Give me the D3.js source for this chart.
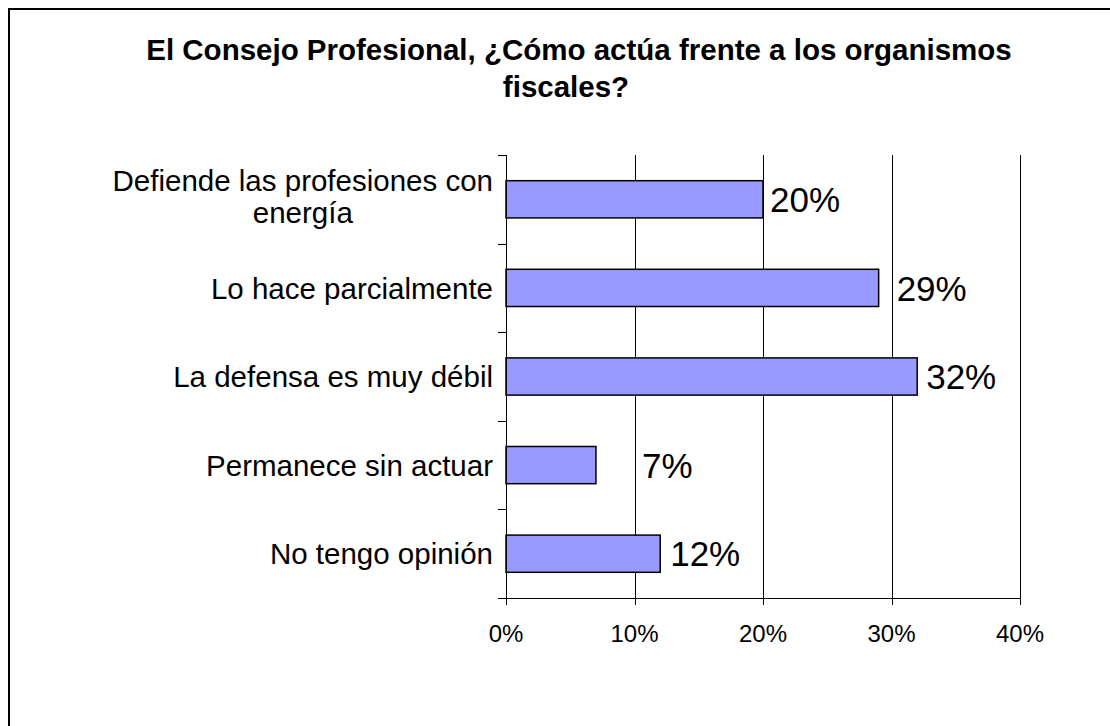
<!DOCTYPE html>
<html>
<head>
<meta charset="utf-8">
<script src="https://cdn.jsdelivr.net/npm/d3@7"></script>
<style>
  html, body { margin: 0; padding: 0; background: #fff; }
  svg { display: block; }
  text { font-family: Arial, "Liberation Sans", sans-serif; fill: #000; }
</style>
</head>
<body>
<script>
const titleLines = ["El Consejo Profesional, ¿Cómo actúa frente a los organismos", "fiscales?"];
const categories = [
  ["Defiende las profesiones con", "energía"],
  ["Lo hace parcialmente"],
  ["La defensa es muy débil"],
  ["Permanece sin actuar"],
  ["No tengo opinión"]
];
const values = [20, 29, 32, 7, 12];
const valueLabels = ["20%", "29%", "32%", "7%", "12%"];
const xTicks = [0, 10, 20, 30, 40];

const W = 1110, H = 726;
const svg = d3.select("body").append("svg").attr("width", W).attr("height", H);

svg.append("rect").attr("x", 9).attr("y", 9).attr("width", W + 20).attr("height", H + 20)
  .attr("fill", "#fff").attr("stroke", "#000").attr("stroke-width", 2);

const m = { left: 506, right: 1020, top: 155, bottom: 598 };
const x = d3.scaleLinear().domain([0, 40]).range([m.left, m.right]);
const y = d3.scaleBand().domain(d3.range(categories.length)).range([m.top, m.bottom]).padding(0);

// title
svg.append("text").attr("x", 579).attr("y", 60).attr("text-anchor", "middle")
  .style("font-size", "29.5px").style("font-weight", "bold").text(titleLines[0]);
svg.append("text").attr("x", 566).attr("y", 97).attr("text-anchor", "middle")
  .style("font-size", "29.5px").style("font-weight", "bold").text(titleLines[1]);

// gridlines
svg.append("g").selectAll("line").data(xTicks.slice(1)).join("line")
  .attr("x1", d => Math.round(x(d)) + 0.5).attr("x2", d => Math.round(x(d)) + 0.5)
  .attr("y1", m.top).attr("y2", m.bottom)
  .attr("stroke", "#000").attr("stroke-width", 1);

// bars
const barH = y.bandwidth() * 0.42;
svg.append("g").selectAll("rect").data(values).join("rect")
  .attr("x", x(0))
  .attr("y", (d, i) => y(i) + y.bandwidth() / 2 - barH / 2)
  .attr("width", d => x(d) - x(0))
  .attr("height", barH)
  .attr("fill", "#9999FF").attr("stroke", "#000").attr("stroke-width", 1.5);

// value labels
const labelOffsets = [7, 18, 9, 46, 10];
svg.append("g").selectAll("text").data(values).join("text")
  .attr("x", (d, i) => x(d) + labelOffsets[i])
  .attr("y", (d, i) => y(i) + y.bandwidth() / 2)
  .attr("dy", "0.36em")
  .style("font-size", "35px")
  .text((d, i) => valueLabels[i]);

// y axis
const yAxisG = svg.append("g");
yAxisG.append("line").attr("x1", m.left + 0.5).attr("x2", m.left + 0.5)
  .attr("y1", m.top).attr("y2", m.bottom).attr("stroke", "#000");
const bounds = d3.range(categories.length + 1).map(i => i < categories.length ? y(i) : m.bottom);
yAxisG.selectAll("line.tick").data(bounds).join("line").attr("class", "tick")
  .attr("x1", m.left - 8).attr("x2", m.left)
  .attr("y1", d => Math.round(d) + 0.5).attr("y2", d => Math.round(d) + 0.5)
  .attr("stroke", "#000");

// category labels
categories.forEach((lines, i) => {
  const cy = y(i) + y.bandwidth() / 2;
  const rightX = m.left - 13;
  if (lines.length === 1) {
    svg.append("text").attr("x", rightX).attr("y", cy).attr("dy", "0.36em")
      .attr("text-anchor", "end").style("font-size", "29.5px").text(lines[0]);
  } else {
    const t1 = svg.append("text").attr("x", rightX).attr("y", cy - 8.5)
      .attr("text-anchor", "end").style("font-size", "29.5px").text(lines[0]);
    const w1 = t1.node().getComputedTextLength();
    svg.append("text").attr("x", rightX - w1 / 2).attr("y", cy + 23.5)
      .attr("text-anchor", "middle").style("font-size", "29.5px").text(lines[1]);
  }
});

// x axis
const xAxisG = svg.append("g");
xAxisG.append("line").attr("x1", m.left - 8).attr("x2", m.right)
  .attr("y1", m.bottom + 0.5).attr("y2", m.bottom + 0.5).attr("stroke", "#000");
xAxisG.selectAll("line.tick").data(xTicks).join("line").attr("class", "tick")
  .attr("x1", d => Math.round(x(d)) + 0.5).attr("x2", d => Math.round(x(d)) + 0.5)
  .attr("y1", m.bottom).attr("y2", m.bottom + 7).attr("stroke", "#000");
xAxisG.selectAll("text").data(xTicks).join("text")
  .attr("x", d => x(d)).attr("y", 642).attr("text-anchor", "middle")
  .style("font-size", "24px").text(d => d + "%");
</script>
</body>
</html>
